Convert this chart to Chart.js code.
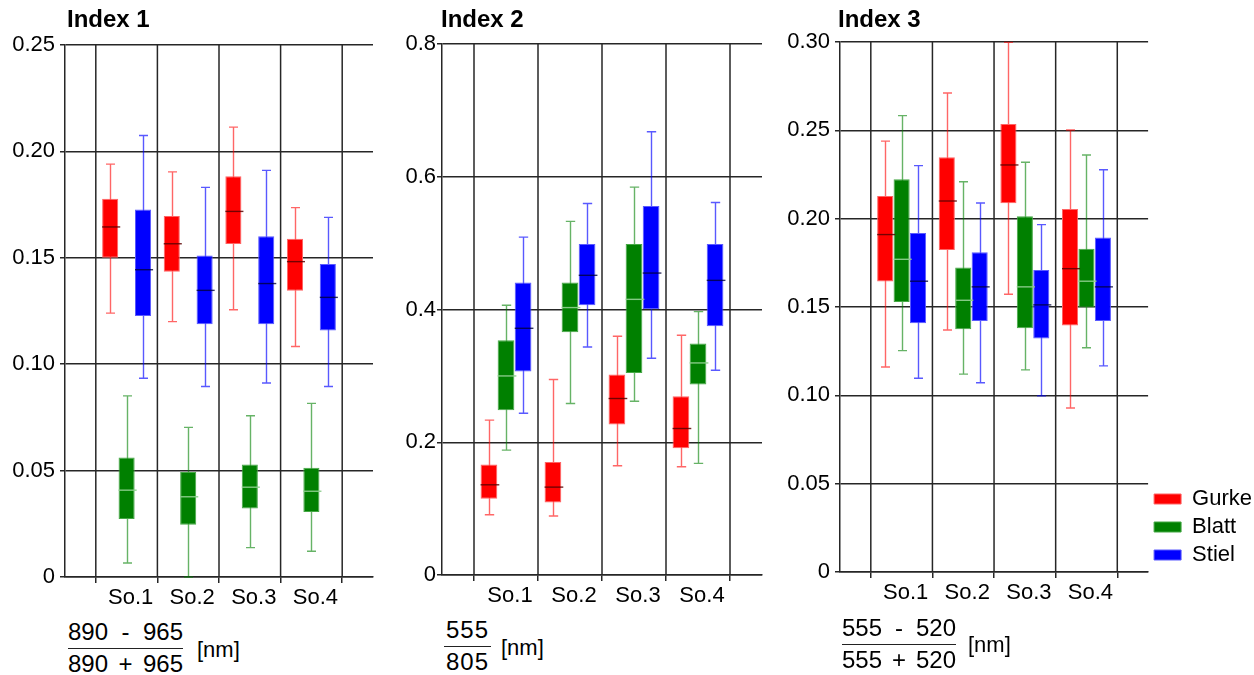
<!DOCTYPE html>
<html>
<head>
<meta charset="utf-8">
<script src="https://cdn.jsdelivr.net/npm/chart.js@4.4.1/dist/chart.umd.min.js"></script>
<style>
    body { margin: 0; width: 1254px; height: 675px; overflow: hidden; background: #fff; position: relative;
           font-family: Arial, "Liberation Sans", sans-serif; color: #000; }
    canvas { position: absolute; top: 0; }
    .title { position: absolute; top: 7px; font-size: 24px; line-height: 24px; font-weight: bold; }
    .frac { position: absolute; font-size: 24px; line-height: 24px; }
    .frac .num { padding-bottom: 4px; }
    .frac .den { border-top: 1.5px solid #222; padding-top: 3px; }
    .frac .row { display: flex; justify-content: space-between; }
    .unit { position: absolute; font-size: 22px; line-height: 22px; }
</style>
</head>
<body>
<canvas id="chart1" width="390" height="617" style="left:0px"></canvas>
<canvas id="chart2" width="400" height="615" style="left:380px"></canvas>
<canvas id="chart3" width="482" height="612" style="left:780px"></canvas>

<div class="title" style="left:67px">Index 1</div>
<div class="title" style="left:441px">Index 2</div>
<div class="title" style="left:838px">Index 3</div>

<div class="frac" style="left:68px;top:620px;width:115px">
    <div class="num row"><span>890</span><span>-</span><span>965</span></div>
    <div class="den row"><span>890</span><span>+</span><span>965</span></div>
</div>
<div class="unit" style="left:197px;top:639px">[nm]</div>

<div class="frac" style="left:444px;top:618px;width:47px;text-align:center;letter-spacing:1px">
    <div class="num">555</div>
    <div class="den">805</div>
</div>
<div class="unit" style="left:501px;top:637px">[nm]</div>

<div class="frac" style="left:842px;top:616px;width:114px">
    <div class="num row"><span>555</span><span>-</span><span>520</span></div>
    <div class="den row"><span>555</span><span>+</span><span>520</span></div>
</div>
<div class="unit" style="left:968px;top:634px">[nm]</div>

<script>
// ── categories and series ──
const categories = ['So.1', 'So.2', 'So.3', 'So.4'];
const seriesNames = ['Gurke', 'Blatt', 'Stiel'];

// five-number summaries per sample: [min, q1, median, q3, max]
const index1Gurke = [[0.124, 0.150, 0.1645, 0.1777, 0.194], [0.120, 0.1435, 0.1566, 0.1697, 0.1904], [0.1256, 0.1565, 0.1718, 0.1883, 0.2114], [0.1083, 0.1345, 0.1482, 0.159, 0.1736]];
const index1Blatt = [[0.0066, 0.0272, 0.0408, 0.0562, 0.0851], [0.0, 0.0245, 0.0377, 0.0494, 0.0703], [0.0138, 0.0322, 0.0422, 0.0529, 0.0758], [0.0121, 0.0306, 0.0403, 0.0513, 0.0816]];
const index1Stiel = [[0.0934, 0.1227, 0.1444, 0.1727, 0.2075], [0.0895, 0.1188, 0.1347, 0.1511, 0.1831], [0.0912, 0.1188, 0.1379, 0.1601, 0.1911], [0.0895, 0.1158, 0.1314, 0.1471, 0.169]];

const index2Gurke = [[0.0907, 0.1148, 0.1359, 0.1666, 0.2333], [0.0888, 0.1094, 0.1324, 0.1701, 0.2945], [0.1645, 0.2268, 0.2659, 0.302, 0.3597], [0.163, 0.1911, 0.2207, 0.2694, 0.3612]];
const index2Blatt = [[0.1881, 0.2483, 0.2999, 0.3537, 0.4063], [0.2584, 0.3657, 0.4029, 0.4405, 0.5327], [0.2618, 0.3045, 0.4153, 0.4986, 0.5844], [0.1681, 0.287, 0.3195, 0.3487, 0.3968]];
const index2Stiel = [[0.2438, 0.3065, 0.3717, 0.4405, 0.5091], [0.3436, 0.4063, 0.4515, 0.4986, 0.5598], [0.3266, 0.4008, 0.4549, 0.5558, 0.6677], [0.3085, 0.3747, 0.4439, 0.4986, 0.5613]];

const index3Gurke = [[0.116, 0.1644, 0.191, 0.2128, 0.2439], [0.137, 0.1823, 0.21, 0.2347, 0.2711], [0.1572, 0.2087, 0.2304, 0.2536, 0.2998], [0.0928, 0.1395, 0.1717, 0.2055, 0.2502]];
const index3Blatt = [[0.1253, 0.1529, 0.177, 0.2223, 0.2583], [0.112, 0.1374, 0.1538, 0.1723, 0.2209], [0.1144, 0.138, 0.1614, 0.2014, 0.2319], [0.1269, 0.1497, 0.1646, 0.183, 0.236]];
const index3Stiel = [[0.1097, 0.1408, 0.1646, 0.1919, 0.23], [0.1071, 0.1421, 0.1614, 0.181, 0.2089], [0.0997, 0.1321, 0.1512, 0.171, 0.1966], [0.1167, 0.1421, 0.1614, 0.1893, 0.2277]];

// y tick values and labels
const index1Ticks = [0, 0.05, 0.10, 0.15, 0.20, 0.25];
const index1Labels = ['0', '0.05', '0.10', '0.15', '0.20', '0.25'];
const index2Ticks = [0, 0.2, 0.4, 0.6, 0.8];
const index2Labels = ['0', '0.2', '0.4', '0.6', '0.8'];
const index3Ticks = [0, 0.05, 0.10, 0.15, 0.20, 0.25, 0.30];
const index3Labels = ['0', '0.05', '0.10', '0.15', '0.20', '0.25', '0.30'];

// ── styles ──
const GRID = '#262626';
const seriesStyle = [
    { fill: '#ff0000', edge: '#ff6464', whisker: 'rgba(255,0,0,0.6)', median: 'rgba(90,0,0,0.85)' },
    { fill: '#008000', edge: '#45a845', whisker: 'rgba(0,128,0,0.6)', median: 'rgba(140,205,140,0.95)' },
    { fill: '#0000ff', edge: '#5a5aff', whisker: 'rgba(0,0,255,0.65)', median: 'rgba(0,0,60,0.8)' }
];

Chart.defaults.font.family = 'Arial, "Liberation Sans", sans-serif';
Chart.defaults.font.size = 22;
Chart.defaults.color = '#000';

// whiskers, medians and category separators
const boxPlotPlugin = {
    id: 'boxPlot',
    beforeDatasetsDraw(chart) {
        const { ctx, chartArea, scales: { x } } = chart;
        const y = chart.scales.y;
        ctx.save();
        // vertical separators halfway between ticks
        ctx.strokeStyle = GRID;
        ctx.lineWidth = 1.5;
        for (let i = 0; i < x.ticks.length - 1; i++) {
            const px = (x.getPixelForTick(i) + x.getPixelForTick(i + 1)) / 2;
            ctx.beginPath();
            ctx.moveTo(px, chartArea.top);
            ctx.lineTo(px, chartArea.bottom);
            ctx.stroke();
        }
        // whiskers
        chart.data.datasets.forEach((ds, d) => {
            const meta = chart.getDatasetMeta(d);
            ctx.strokeStyle = ds.whiskerColor;
            ctx.lineWidth = 1.4;
            meta.data.forEach((bar, i) => {
                const s = ds.stats[i];
                if (!s) return;
                const cx = Math.round(bar.x) + 0.5;
                const half = bar.width * 0.28;
                const yMin = y.getPixelForValue(s[0]);
                const yMax = y.getPixelForValue(s[4]);
                ctx.beginPath();
                ctx.moveTo(cx, yMin); ctx.lineTo(cx, yMax);
                ctx.moveTo(cx - half, yMin); ctx.lineTo(cx + half, yMin);
                ctx.moveTo(cx - half, yMax); ctx.lineTo(cx + half, yMax);
                ctx.stroke();
            });
        });
        ctx.restore();
    },
    afterDatasetsDraw(chart) {
        const { ctx } = chart;
        const y = chart.scales.y;
        ctx.save();
        chart.data.datasets.forEach((ds, d) => {
            const meta = chart.getDatasetMeta(d);
            ctx.strokeStyle = ds.medianColor;
            ctx.lineWidth = 1.4;
            meta.data.forEach((bar, i) => {
                const s = ds.stats[i];
                if (!s) return;
                const py = y.getPixelForValue(s[2]);
                ctx.beginPath();
                ctx.moveTo(bar.x - bar.width / 2, py);
                ctx.lineTo(bar.x + bar.width / 2 + 2, py);
                ctx.stroke();
            });
        });
        ctx.restore();
    }
};

// builds one box-plot panel
function makePanel(id, series, ticks, tickLabels, opts) {
    const labels = ['', ...categories, ''];
    const datasets = series.map((stats, k) => {
        const padded = [null, ...stats, null];
        return {
            label: seriesNames[k],
            data: padded.map(s => (s ? [s[1], s[3]] : null)),
            stats: padded,
            backgroundColor: seriesStyle[k].fill,
            borderColor: seriesStyle[k].edge,
            borderWidth: 1,
            borderSkipped: false,
            whiskerColor: seriesStyle[k].whisker,
            medianColor: seriesStyle[k].median,
            categoryPercentage: 0.8,
            barPercentage: 0.98
        };
    });

    return new Chart(document.getElementById(id), {
        type: 'bar',
        data: { labels, datasets },
        plugins: [boxPlotPlugin],
        options: {
            responsive: false,
            animation: false,
            layout: { padding: { top: opts.top, right: opts.right, left: 0, bottom: 0 } },
            plugins: {
                tooltip: { enabled: false },
                legend: opts.legend ? {
                    display: true,
                    position: 'right',
                    align: 'end',
                    fullSize: false,
                    labels: { boxWidth: 27, boxHeight: 10, padding: 6, color: '#000', font: { size: 22 } }
                } : { display: false }
            },
            scales: {
                x: {
                    type: 'category',
                    offset: false,
                    afterFit: s => { s.height = 40; },
                    grid: { drawOnChartArea: false, drawTicks: true, tickLength: 6, color: GRID, lineWidth: 1.5 },
                    border: { color: GRID, width: 1.5 },
                    ticks: { autoSkip: false, maxRotation: 0, padding: 2, labelOffset: 4, color: '#000' }
                },
                y: {
                    min: ticks[0],
                    max: ticks[ticks.length - 1],
                    afterFit: s => { s.width = opts.axisWidth; },
                    afterBuildTicks: s => { s.ticks = ticks.map(v => ({ value: v })); },
                    grid: { color: GRID, lineWidth: 1.5, tickLength: 5 },
                    border: { color: GRID, width: 1.5 },
                    ticks: { padding: opts.labelPad, color: '#000', callback: (v, i) => tickLabels[i] }
                }
            }
        }
    });
}

makePanel('chart1', [index1Gurke, index1Blatt, index1Stiel], index1Ticks, index1Labels,
    { top: 45, right: 17, axisWidth: 65, labelPad: 5 });
makePanel('chart2', [index2Gurke, index2Blatt, index2Stiel], index2Ticks, index2Labels,
    { top: 44, right: 18, axisWidth: 62, labelPad: 1 });
makePanel('chart3', [index3Gurke, index3Blatt, index3Stiel], index3Ticks, index3Labels,
    { top: 42, right: 0, axisWidth: 60, labelPad: 5, legend: true });
</script>
</body>
</html>
